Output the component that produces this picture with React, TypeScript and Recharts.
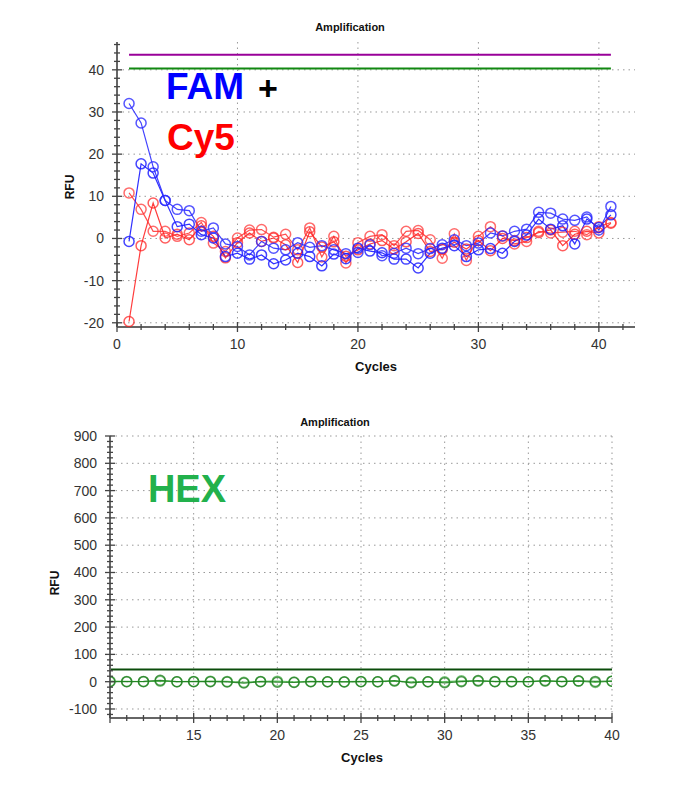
import React from "react";
import { LineChart, Line, XAxis, YAxis, CartesianGrid, ReferenceLine } from "recharts";

// top panel: FAM + Cy5, cycles 1..41
const cycles = [1, 2, 3, 4, 5, 6, 7, 8, 9, 10, 11, 12, 13, 14, 15, 16, 17, 18, 19, 20, 21, 22, 23, 24, 25, 26, 27, 28, 29, 30, 31, 32, 33, 34, 35, 36, 37, 38, 39, 40, 41];
const famA = [32, 27.4, 17, 9, 6.9, 6.6, 1.7, 2.5, -1.3, -1.9, -3.9, -0.7, -2.3, -2.7, -1.0, -2.1, -1.7, -2.7, -3.6, -3.3, -1.5, -4.1, -3.5, -2.3, -3.6, -2.4, -1.5, -0.3, -1.7, -1.1, 1.3, 0.6, 1.7, 2.2, 6.2, 6.0, 4.6, 4.3, 5.1, 2.0, 7.6];
const famB = [-0.7, 17.7, 15.5, 9, 2.8, 3.4, 0.9, 0.1, -4.3, -3.5, -4.9, -3.9, -6, -5.1, -3.5, -4.3, -6.5, -3.7, -4.8, -2.3, -3.0, -3.4, -4.9, -4.9, -7.0, -3.5, -2.3, -1.7, -4.3, -2.7, -2.4, -3.5, -0.7, 0.8, 4.6, 2.2, 3.0, -1.3, 4.6, 2.6, 5.6];
const cy5A = [10.8, 6.9, 1.7, 1.7, 0.5, 1.3, 3.8, -1.1, -3.1, 0.1, 2.0, 2.1, 0.3, 1.0, -2.7, 2.5, -4.4, 0.5, -5.8, -1.0, 0.5, 0.9, -1.7, 1.7, 1.9, -0.3, -4.7, 1.1, -5.2, 0.5, 2.8, 0.6, -1.3, -0.7, 1.7, 1.3, 1.5, 1.7, 0.9, 2.8, 3.8];
const cy5B = [-19.7, -1.7, 8.4, 0.1, 1.0, -0.3, 3.0, 0.5, -4.6, -1.0, 1.3, -0.7, 0.1, -1.5, -5.7, 1.6, -2.0, -0.8, -4.2, -2.7, -1.3, -0.5, -2.5, -0.8, 1.2, -3.1, -2.6, -0.9, -2.5, -0.5, -2.9, 0.0, -0.5, 0.2, 1.4, 2.0, -1.7, 1.0, 1.7, 1.3, 3.6];
const famThreshold = 43.6;
const cy5Threshold = 40.3;
const topYTicks = [-20, -10, 0, 10, 20, 30, 40];
const topXTicks = [0, 10, 20, 30, 40];

// bottom panel: HEX, cycles 10..40
const hexCycles = [10, 11, 12, 13, 14, 15, 16, 17, 18, 19, 20, 21, 22, 23, 24, 25, 26, 27, 28, 29, 30, 31, 32, 33, 34, 35, 36, 37, 38, 39, 40];
const hexA = [0, 0, 1, 5, 0, 0, 0, -1, -5, 0, -2, -3, 0, 0, -1, 0, 0, 4, -4, 0, -4, 0, 4, 0, 0, 0, 4, 0, 3, 1, 2];
const hexB = [2, 1, 0, 2, 0, 1, 2, 1, -2, 1, 2, -1, 1, 0, 0, 1, 0, 2, -1, 0, 0, 3, 2, 1, 1, 0, 2, 1, 2, -3, 2];
const hexThreshold = 45;
const botYTicks = [-100, 0, 100, 200, 300, 400, 500, 600, 700, 800, 900];
const botXTicks = [15, 20, 25, 30, 35, 40];

const FONT = "'Liberation Sans', Arial, sans-serif";

const topData = cycles.map((c, i) => ({ cycle: c, famA: famA[i], famB: famB[i], cy5A: cy5A[i], cy5B: cy5B[i] }));
const botData = hexCycles.map((c, i) => ({ cycle: c, hexA: hexA[i], hexB: hexB[i] }));

function steps(from: number, to: number, step: number) {
  const out: number[] = [];
  for (let v = from; v <= to + 1e-9; v += step) out.push(Math.round(v * 1000) / 1000);
  return out;
}

function AxisTick(props: any) {
  const { x, y, payload, side, majorStep, labels, hide = [] } = props;
  const v = Number(payload.value);
  const r = v / majorStep;
  const isMajor = Math.abs(r - Math.round(r)) < 1e-6;
  const len = isMajor ? 5 : 3;
  const show = labels && isMajor && !hide.includes(v);
  const c = "#444";
  const txt = { fontFamily: FONT, fontSize: 14, fill: "#333" };
  if (side === "left" || side === "right") {
    return (
      <g>
        <line x1={x - len} x2={x + len} y1={y} y2={y} stroke={c} strokeWidth={1.3} />
        {show && (
          <text x={x - 13} y={y} textAnchor="end" dominantBaseline="central" style={txt}>
            {v}
          </text>
        )}
      </g>
    );
  }
  return (
    <g>
      <line x1={x} x2={x} y1={y - len} y2={y + len} stroke={c} strokeWidth={1.3} />
      {show && (
        <text x={x} y={y + 17} textAnchor="middle" dominantBaseline="central" style={txt}>
          {v}
        </text>
      )}
    </g>
  );
}

const label = (text: string, x: number, y: number, size: number, color: string, extra: any = {}) => (
  <div
    style={{
      position: "absolute",
      left: x,
      top: y,
      transform: "translate(-50%, -50%)" + (extra.rotate ? " rotate(-90deg)" : ""),
      fontFamily: FONT,
      fontWeight: "bold",
      fontSize: size,
      color,
      whiteSpace: "nowrap",
      lineHeight: 1,
    }}
  >
    {text}
  </div>
);

const dotStyle = (color: string) => ({ r: 5, fill: "none", stroke: color, strokeWidth: 1.5 });

export default function App() {
  const frame = { stroke: "#666", strokeWidth: 2 };
  return (
    <div style={{ position: "absolute", left: 0, top: 0, width: 693, height: 800, background: "#fff" }}>
      <div style={{ position: "absolute", left: 0, top: 0 }}>
        <LineChart width={693} height={390} data={topData} margin={{ top: 42, right: 58, bottom: 33, left: 57 }}>
          <CartesianGrid horizontalValues={topYTicks} verticalValues={topXTicks} stroke="#999" strokeDasharray="1.5 4" />
          <XAxis dataKey="cycle" type="number" domain={[0, 43]} ticks={steps(0, 42, 2)} interval={0} height={30} tickSize={0} tickMargin={0} axisLine={frame} tickLine={false} tick={<AxisTick side="bottom" majorStep={10} labels />} />
          <XAxis xAxisId="t" orientation="top" type="number" domain={[0, 43]} allowDataOverflow ticks={steps(0, 42, 2)} interval={0} height={0} tickSize={0} tickMargin={0} axisLine={frame} tickLine={false} tick={<AxisTick side="top" majorStep={10} />} />
          <YAxis type="number" domain={[-21, 46.6]} allowDataOverflow ticks={steps(-20, 46, 2)} interval={0} width={60} tickSize={0} tickMargin={0} axisLine={frame} tickLine={false} tick={<AxisTick side="left" majorStep={10} labels />} />
          <YAxis yAxisId="r" orientation="right" type="number" domain={[-21, 46.6]} allowDataOverflow ticks={steps(-20, 46, 2)} interval={0} width={0} tickSize={0} tickMargin={0} axisLine={frame} tickLine={false} tick={<AxisTick side="right" majorStep={10} />} />
          <ReferenceLine segment={[{ x: 1, y: famThreshold }, { x: 41, y: famThreshold }]} stroke="#990099" strokeWidth={2} />
          <ReferenceLine segment={[{ x: 1, y: cy5Threshold }, { x: 41, y: cy5Threshold }]} stroke="#118811" strokeWidth={2} />
          <Line dataKey="cy5B" stroke="#ff1a1a" strokeOpacity={0.85} strokeWidth={1.2} dot={dotStyle("rgba(255,30,30,0.85)")} isAnimationActive={false} />
          <Line dataKey="cy5A" stroke="#ff3030" strokeOpacity={0.85} strokeWidth={1.2} dot={dotStyle("rgba(255,50,50,0.85)")} isAnimationActive={false} />
          <Line dataKey="famB" stroke="#1a1aff" strokeOpacity={0.9} strokeWidth={1.2} dot={dotStyle("rgba(25,25,255,0.9)")} isAnimationActive={false} />
          <Line dataKey="famA" stroke="#2e2eff" strokeOpacity={0.9} strokeWidth={1.2} dot={dotStyle("rgba(45,45,255,0.9)")} isAnimationActive={false} />
        </LineChart>
      </div>
      <div style={{ position: "absolute", left: 0, top: 400 }}>
        <LineChart width={693} height={400} data={botData} margin={{ top: 36, right: 81, bottom: 52, left: 50 }}>
          <CartesianGrid horizontalValues={botYTicks} verticalValues={botXTicks} stroke="#999" strokeDasharray="1.5 4" />
          <XAxis dataKey="cycle" type="number" domain={[10, 40]} allowDataOverflow ticks={steps(10, 40, 1)} interval={0} height={30} tickSize={0} tickMargin={0} axisLine={frame} tickLine={false} tick={<AxisTick side="bottom" majorStep={5} labels hide={[10]} />} />
          <XAxis xAxisId="t" orientation="top" type="number" domain={[10, 40]} allowDataOverflow ticks={steps(10, 40, 1)} interval={0} height={0} tickSize={0} tickMargin={0} axisLine={frame} tickLine={false} tick={<AxisTick side="top" majorStep={5} />} />
          <YAxis type="number" domain={[-133, 900]} allowDataOverflow ticks={steps(-120, 900, 20)} interval={0} width={60} tickSize={0} tickMargin={0} axisLine={frame} tickLine={false} tick={<AxisTick side="left" majorStep={100} labels />} />
          <YAxis yAxisId="r" orientation="right" type="number" domain={[-133, 900]} allowDataOverflow ticks={steps(-120, 900, 20)} interval={0} width={0} tickSize={0} tickMargin={0} axisLine={frame} tickLine={false} tick={<AxisTick side="right" majorStep={100} />} />
          <ReferenceLine y={hexThreshold} stroke="#0b4d0b" strokeWidth={2} />
          <Line dataKey="hexB" stroke="#4cb84c" strokeOpacity={0.85} strokeWidth={1.2} dot={dotStyle("rgba(70,175,70,0.85)")} isAnimationActive={false} />
          <Line dataKey="hexA" stroke="#167a16" strokeOpacity={0.85} strokeWidth={1.2} dot={dotStyle("rgba(20,115,20,0.85)")} isAnimationActive={false} />
        </LineChart>
      </div>
      {label("Amplification", 350, 27, 11, "#111")}
      {label("RFU", 70, 187, 12, "#111", { rotate: true })}
      {label("Cycles", 376, 366, 13, "#111")}
      {label("FAM", 205, 86, 37, "#0000ff")}
      {label("+", 268, 88, 34, "#000")}
      {label("Cy5", 201, 137, 37, "#ff0000")}
      {label("Amplification", 335, 422, 11, "#111")}
      {label("RFU", 55, 583, 12, "#111", { rotate: true })}
      {label("Cycles", 362, 757, 13, "#111")}
      {label("HEX", 187, 489, 38, "#22b14c")}
    </div>
  );
}
